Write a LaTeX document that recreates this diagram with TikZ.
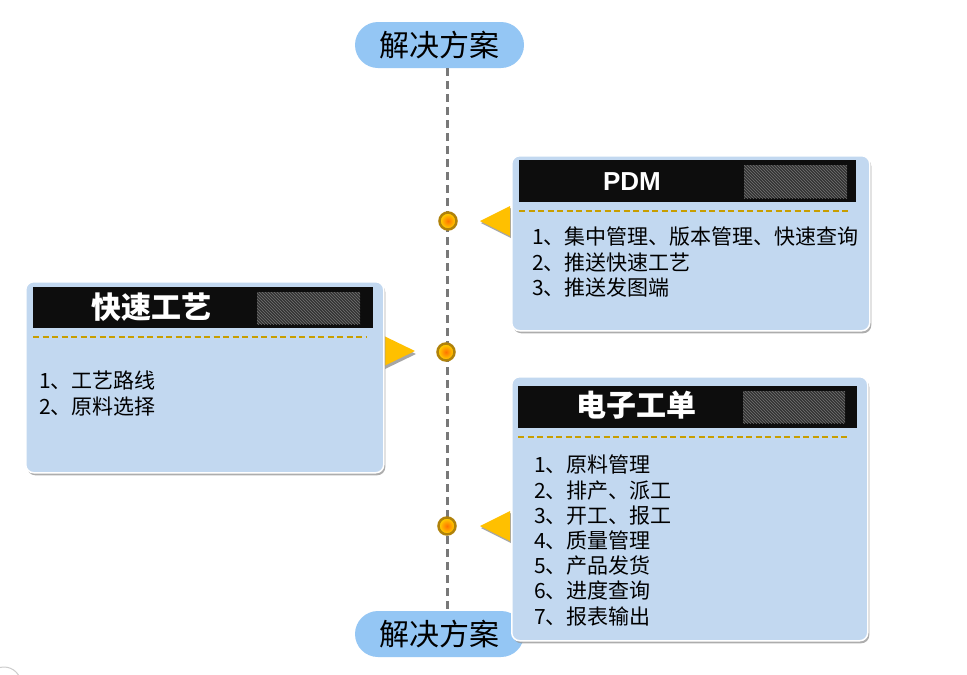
\documentclass[tikz,border=0pt]{standalone}
\usepackage{fontspec}
\setmainfont{Noto Sans CJK SC}
\newfontfamily\latinbold[BoldFont={Liberation Sans Bold}]{Liberation Sans}
\usetikzlibrary{patterns,shadows}
\definecolor{pillblue}{RGB}{148,198,244}
\definecolor{boxblue}{RGB}{194,216,240}
\definecolor{hdrblack}{RGB}{13,13,13}
\definecolor{golddash}{RGB}{200,158,0}
\definecolor{tricol}{RGB}{255,192,0}
\definecolor{dotring}{RGB}{176,130,10}
\definecolor{vgray}{RGB}{120,120,120}
\tikzset{
  pill/.style={fill=pillblue, rounded corners=23pt, minimum width=169pt, minimum height=46pt, inner sep=0pt, font=\fontsize{30}{32}\selectfont},
  infobox/.style={fill=boxblue, draw=white, line width=1.5pt, rounded corners=8pt, anchor=north west, inner sep=0pt,
    drop shadow={shadow xshift=1.5pt, shadow yshift=-2.5pt, fill=black!40, opacity=0.8}},
  header/.style={fill=hdrblack, anchor=north west, inner sep=0pt},
  hatchbox/.style={anchor=north west, inner sep=0pt, preaction={fill=black!80}, pattern=north west lines, pattern color=black!55},
  titletext/.style={text=white, font=\fontsize{30}{32}\selectfont\bfseries},
  bodytext/.style={anchor=north west, align=left, inner sep=0pt, font=\fontsize{21}{25.2}\selectfont},
  goldline/.style={draw=golddash, line width=2pt, dash pattern=on 6pt off 3.5pt},
  vline/.style={draw=vgray, line width=3pt, dash pattern=on 8pt off 5pt},
  dotnode/.style={circle, draw=dotring, line width=2.5pt, minimum size=17pt, inner sep=0pt, inner color=orange!90!red, outer color=yellow!70!orange},
  tri/.style={fill=tricol},
  trishadow/.style={fill=black!35}
}
\begin{document}
\begin{tikzpicture}[x=1pt,y=-1pt]
\useasboundingbox (0,0) rectangle (967,675);
\fill[white] (0,0) rectangle (967,675);
\draw[black!20, line width=1pt] (4,684) circle (17);

% pills
\node[pill] (top) at (439.5,45) {解决方案};
\node[pill] (bot) at (439.5,634) {解决方案};

% vertical line
\coordinate (vt) at (447,68);
\coordinate (vb) at (447,611);
\draw[vline] (vt) -- (vb);

% dots
\node[dotnode] (d1) at (448,221) {};
\node[dotnode] (d2) at (446,352) {};
\node[dotnode] (d3) at (447,526) {};

% triangles
\fill[trishadow] (511,208) -- (481,223) -- (511,238) -- cycle;
\fill[tri] (510,206) -- (480,221) -- (510,236) -- cycle;
\fill[trishadow] (385,339) -- (416,354) -- (385,369) -- cycle;
\fill[tri] (384,336) -- (415,351) -- (384,366) -- cycle;
\fill[trishadow] (511,513) -- (481,528) -- (511,543) -- cycle;
\fill[tri] (510,511) -- (480,526) -- (510,541) -- cycle;

% PDM box
\node[infobox, minimum width=358pt, minimum height=175pt] (pdm) at (511,155) {};
\node[header, minimum width=337pt, minimum height=42pt] (pdmh) at (519,160) {};
\node[hatchbox, minimum width=103pt, minimum height=33pt] (pdmhatch) at (744,165) {};
\node[titletext, font=\latinbold\fontsize{26}{28}\selectfont\bfseries] (pdmt) at (632,182) {PDM};
\draw[goldline] (519,211) -- (851,211);
\node[bodytext] (pdmb) at (532,227) {1、集中管理、版本管理、快速查询\\2、推送快速工艺\\3、推送发图端};

% 快速工艺 box
\node[infobox, minimum width=358pt, minimum height=191pt] (kg) at (25,281) {};
\node[header, minimum width=340pt, minimum height=41pt] (kgh) at (33,287) {};
\node[hatchbox, minimum width=103pt, minimum height=32pt] (kghatch) at (257,292) {};
\node[titletext] (kgt) at (151,307) {快速工艺};
\draw[goldline] (33,337) -- (366,337);
\node[bodytext] (kgb) at (39,371) {1、工艺路线\\2、原料选择};

% 电子工单 box
\node[infobox, minimum width=356pt, minimum height=264pt] (dz) at (511,376) {};
\node[header, minimum width=339pt, minimum height=42pt] (dzh) at (518,386) {};
\node[hatchbox, minimum width=102pt, minimum height=32pt] (dzhatch) at (743,391) {};
\node[titletext] (dzt) at (636,405) {电子工单};
\draw[goldline] (518,437) -- (850,437);
\node[bodytext] (dzb) at (534,455) {1、原料管理\\2、排产、派工\\3、开工、报工\\4、质量管理\\5、产品发货\\6、进度查询\\7、报表输出};
\end{tikzpicture}
\end{document}
